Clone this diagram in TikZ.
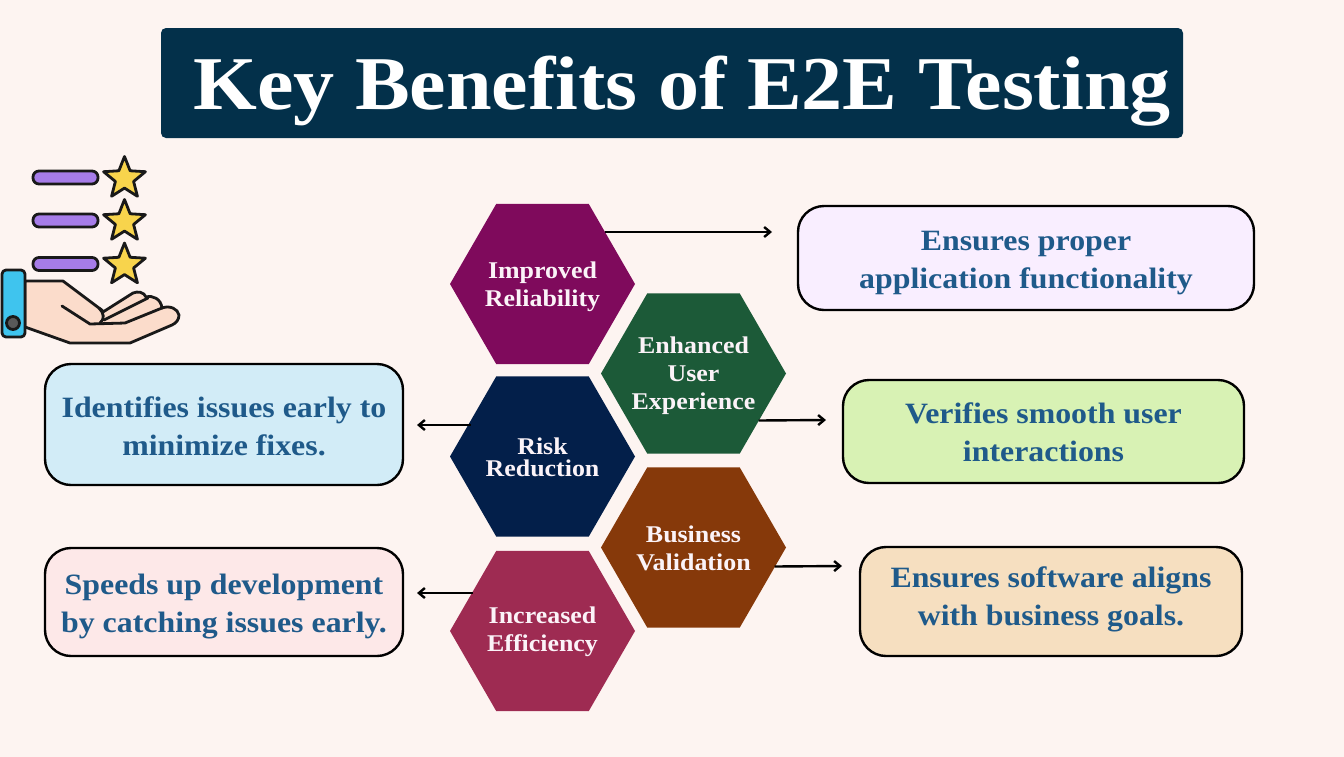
\documentclass[tikz,border=0pt]{standalone}
\usepackage{fontspec}
\setmainfont[FakeStretch=1.08]{Liberation Serif}
\usetikzlibrary{shapes.geometric,shapes.misc,arrows.meta}
\definecolor{bgc}{HTML}{FDF4F1}
\definecolor{titlec}{HTML}{03304A}
\definecolor{boxtext}{HTML}{1F5A8A}
\definecolor{hexa}{HTML}{7F0A5C}
\definecolor{hexb}{HTML}{1C5A38}
\definecolor{hexc}{HTML}{031F4A}
\definecolor{hexd}{HTML}{86390A}
\definecolor{hexe}{HTML}{9E2B52}
\definecolor{hextext}{HTML}{FBF3F8}
\definecolor{skin}{HTML}{FBDCCB}
\definecolor{bar}{HTML}{A67CE8}
\definecolor{starc}{HTML}{F8D44C}
\definecolor{cuff}{HTML}{3FC4EE}
\definecolor{fillA}{HTML}{F9EEFF}
\definecolor{fillB}{HTML}{D8F2B4}
\definecolor{fillC}{HTML}{D2ECF7}
\definecolor{fillD}{HTML}{FDE8E8}
\definecolor{fillE}{HTML}{F6DFC0}
\tikzset{
  x=1pt,y=-1pt,
  hexnode/.style={regular polygon,regular polygon sides=6,minimum size=185pt,inner sep=0pt,outer sep=0pt},
  hexlabel/.style={text=hextext,font=\fontsize{24}{28}\selectfont\bfseries,align=center,inner sep=0pt},
  infobox/.style={draw=black,line width=2.4pt,rounded corners=26pt,inner sep=0pt,outer sep=0pt},
  boxlabel/.style={text=boxtext,font=\fontsize{29.5}{38}\selectfont\bfseries,align=center,inner sep=0pt},
  arr/.style={draw=black,line width=2.4pt,-{Straight Barb[length=6pt,width=10pt]}},
  icon/.style={draw=black!90,line width=2.8pt,line join=round,line cap=round},
}
\newcommand{\boxat}[9]{\node[infobox,fill=#6,minimum width=#3 pt,minimum height=#4 pt] (#7) at (#1,#2) {};
  \node[boxlabel] (#8) at (#1,#9) {#5};}
\newcommand{\hexat}[6]{\node[hexnode,fill=#4] (#3) at (#1,#2) {};
  \node[hexlabel] (#3t) at (#1,#6) {#5};}
\newcommand{\rating}[2]{%
  \draw[icon,fill=bar,rounded corners=6pt] (33,#1-6.5) rectangle (98,#1+6.5);
  \node[star,star points=5,star point ratio=2.3,minimum size=44pt,inner sep=0pt,draw=black!90,line width=2.8pt,fill=starc,line join=round] (#2) at (124.5,#1+1) {};
}
\begin{document}
\begin{tikzpicture}
\useasboundingbox (0,0) rectangle (1344,756);
\fill[bgc] (-5,-5) rectangle (1349,761);
\node[fill=titlec,rounded corners=5pt,minimum width=1022pt,minimum height=110pt,inner sep=0pt] (title) at (672,83) {};
\node[text=white,inner sep=0pt,font=\fontsize{76}{90}\selectfont\bfseries] (titlet) at (682,91.5) {Key Benefits of E2E Testing};

\hexat{542.5}{284}{imp}{hexa}{Improved\\Reliability}{286.5}
\hexat{693.5}{373.5}{enh}{hexb}{Enhanced\\User\\Experience}{375.5}
\hexat{542.5}{456.5}{risk}{hexc}{Risk\\[-6pt]Reduction}{457}
\hexat{693.5}{547.5}{bus}{hexd}{Business\\Validation}{548}
\hexat{542.5}{631}{eff}{hexe}{Increased\\Efficiency}{632}

\boxat{1026}{258}{456}{104}{Ensures proper\\application functionality}{fillA}{bA}{bAt}{263}
\boxat{1043.5}{431.5}{401}{103}{Verifies smooth user\\interactions}{fillB}{bB}{bBt}{432}
\boxat{224}{424.5}{358}{121}{Identifies issues early to\\minimize fixes.}{fillC}{bC}{bCt}{426}
\boxat{224}{602}{358}{108}{Speeds up development\\by catching issues early.}{fillD}{bD}{bDt}{607}
\boxat{1051}{601.5}{382}{109}{Ensures software aligns\\with business goals.}{fillE}{bE}{bEt}{599}

\path (imp) ++(62.5,-52) coordinate (sA);
\path (bA.west) ++(-26,-26) coordinate (eA);
\draw[arr] (sA) -- (eA);
\path (enh) ++(65,47) coordinate (sB);
\path (bB.west) ++(-17,-11.5) coordinate (eB);
\draw[arr] (sB) -- (eB);
\path (risk) ++(-72,-31.5) coordinate (sC);
\path (bC.east) ++(14,0.5) coordinate (eC);
\draw[arr] (sC) -- (eC);
\path (eff) ++(-70,-38) coordinate (sD);
\path (bD.east) ++(14,-9) coordinate (eD);
\draw[arr] (sD) -- (eD);
\path (bus) ++(81,19) coordinate (sE);
\path (bE.west) ++(-18,-35.5) coordinate (eE);
\draw[arr] (sE) -- (eE);

\rating{177.5}{s1}
\rating{220.5}{s2}
\rating{264}{s3}
% hand
\path[icon,fill=skin] (25,281) -- (63,281) -- (99,308) .. controls (102,310) and (103,311) .. (103,312)
  -- (133,293) .. controls (138,291) and (144,292) .. (146,297)
  .. controls (153,295) and (161,299) .. (162,308)
  .. controls (170,305) and (178,309) .. (179,315) .. controls (179,320) and (176,323) .. (172,325)
  -- (130,343) -- (70,343) -- (25,327) -- cycle;
\draw[icon] (99,308) .. controls (104,313) and (105,319) .. (100,323);
\draw[icon] (62,306) -- (90,324) -- (125,323) -- (162,308);
\draw[icon] (104,320) -- (148,298);
\draw[icon,fill=cuff,rounded corners=4pt] (2,270) rectangle (25,337);
\draw[icon,fill=gray!70!black] (13,323) circle (6.5);
\end{tikzpicture}
\end{document}
